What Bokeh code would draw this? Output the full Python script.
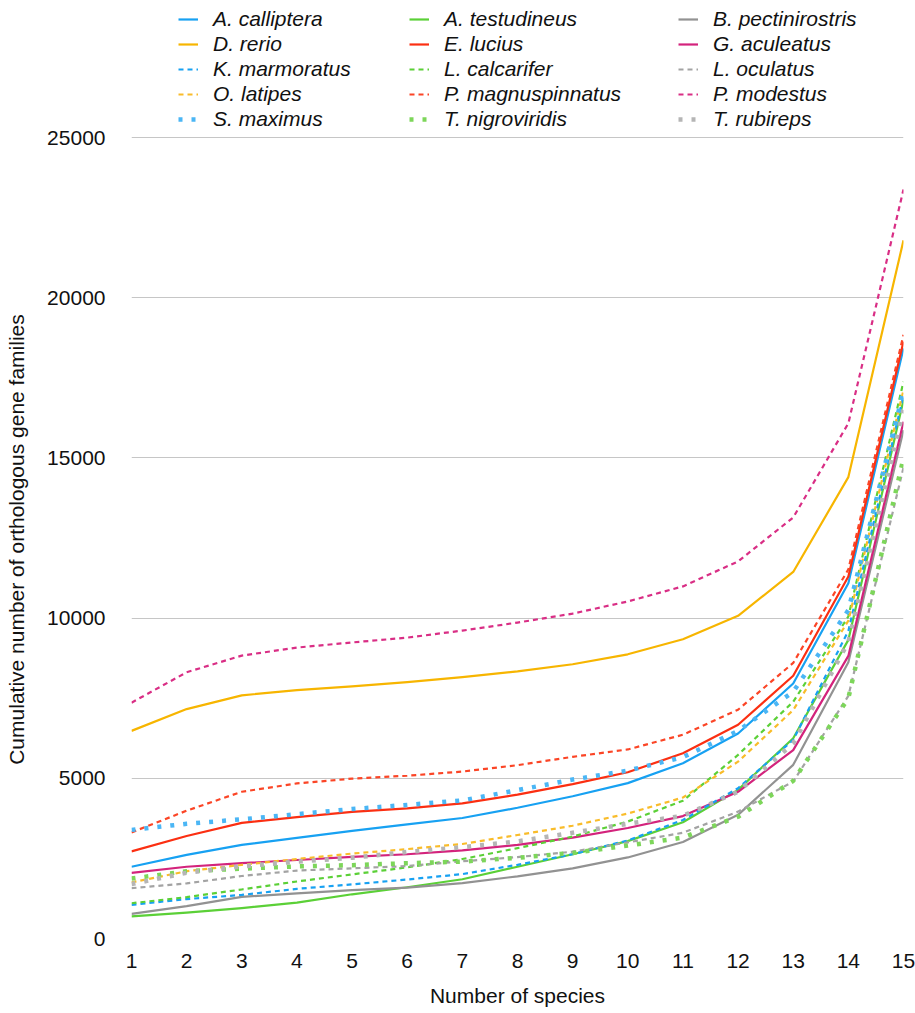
from bokeh.plotting import figure
from bokeh.models import Range1d, Legend, LegendItem, FixedTicker
from bokeh.embed import file_html
from bokeh.resources import INLINE

# Number of species included (x axis)
species_count = list(range(1, 16))

# Cumulative number of orthologous gene families per added species
a_calliptera = [2240, 2610, 2920, 3140, 3360, 3560, 3760, 4080, 4440, 4850, 5470, 6400, 7960, 11090, 18420]
a_testudineus = [690, 810, 950, 1120, 1380, 1600, 1850, 2240, 2630, 3040, 3630, 4640, 6250, 9320, 16810]
b_pectinirostris = [770, 1010, 1300, 1410, 1510, 1590, 1730, 1940, 2190, 2530, 3010, 3860, 5420, 8620, 15870]
d_rerio = [6480, 7160, 7590, 7750, 7870, 8000, 8160, 8340, 8560, 8870, 9340, 10070, 11440, 14400, 21790]
e_lucius = [2720, 3200, 3610, 3790, 3950, 4060, 4220, 4490, 4820, 5190, 5780, 6670, 8200, 11300, 18630]
g_aculeatus = [2050, 2240, 2350, 2450, 2550, 2630, 2750, 2920, 3150, 3450, 3820, 4580, 5880, 8820, 16130]
k_marmoratus = [1050, 1230, 1360, 1550, 1690, 1840, 2010, 2300, 2630, 3060, 3700, 4690, 6200, 9600, 16950]
l_calcarifer = [1100, 1290, 1530, 1780, 2000, 2220, 2480, 2820, 3180, 3650, 4300, 5730, 7390, 10050, 17380]
l_oculatus = [1570, 1720, 1950, 2120, 2190, 2260, 2410, 2540, 2710, 3000, 3300, 3960, 4900, 7570, 14700]
o_latipes = [1750, 2100, 2300, 2480, 2650, 2790, 2950, 3230, 3520, 3900, 4400, 5520, 7130, 9920, 17120]
p_magnuspinnatus = [3310, 3990, 4580, 4840, 4990, 5080, 5210, 5410, 5670, 5900, 6360, 7140, 8600, 11520, 18840]
p_modestus = [7360, 8310, 8830, 9080, 9240, 9390, 9610, 9860, 10140, 10520, 10990, 11770, 13140, 16080, 23380]
s_maximus = [3390, 3580, 3720, 3880, 4040, 4170, 4310, 4630, 4960, 5240, 5660, 6480, 7700, 10250, 17070]
t_nigroviridis = [1870, 2100, 2180, 2250, 2290, 2350, 2400, 2520, 2670, 2900, 3150, 3800, 4920, 7500, 15000]
t_rubireps = [1700, 2050, 2250, 2400, 2520, 2700, 2850, 3030, 3300, 3580, 3830, 4580, 6090, 9250, 16500]

y_ticks = [0, 5000, 10000, 15000, 20000, 25000]

# Line styles: (colour, dash, width)
BLUE, YELLOW, RED, GREEN, GRAY, PINK = "#17A1F2", "#F7B500", "#FB2F12", "#5BD037", "#929292", "#D3237C"
SOLID = lambda c: (c, "solid", 2.2)
DASHED = lambda c: (c, "5 4", 2.2)
DOTTED = lambda c: (c, "4 9", 4.5)

# Legend order (row-major, three columns)
series = [
    ("A. calliptera", a_calliptera, SOLID(BLUE)),
    ("A. testudineus", a_testudineus, SOLID(GREEN)),
    ("B. pectinirostris", b_pectinirostris, SOLID(GRAY)),
    ("D. rerio", d_rerio, SOLID(YELLOW)),
    ("E. lucius", e_lucius, SOLID(RED)),
    ("G. aculeatus", g_aculeatus, SOLID(PINK)),
    ("K. marmoratus", k_marmoratus, DASHED(BLUE)),
    ("L. calcarifer", l_calcarifer, DASHED(GREEN)),
    ("L. oculatus", l_oculatus, DASHED("#A3A3A3")),
    ("O. latipes", o_latipes, DASHED("#F9BC2A")),
    ("P. magnuspinnatus", p_magnuspinnatus, DASHED("#FB4526")),
    ("P. modestus", p_modestus, DASHED("#D92E85")),
    ("S. maximus", s_maximus, DOTTED("#4BB6F5")),
    ("T. nigroviridis", t_nigroviridis, DOTTED("#7DD65A")),
    ("T. rubireps", t_rubireps, DOTTED("#B5B5B5")),
]

FONT = "Liberation Sans"
INK = "#111111"

# The plotting frame runs to the top edge so the key can sit above the
# 25000 gridline; the value scale keeps 0..25000 over the lower 801 px.
FRAME_H = 1013 - 75
PLOT_H = 801
y_top = y_ticks[-1] * FRAME_H / PLOT_H

p = figure(
    width=915, height=1013,
    x_range=Range1d(1, 15), y_range=Range1d(0, y_top),
    output_backend="svg", toolbar_location=None,
    min_border_left=131, min_border_right=12,
    min_border_top=0, min_border_bottom=75,
)
p.outline_line_color = None

p.xgrid.visible = False
p.ygrid.grid_line_color = "#C6C6C6"
p.ygrid.grid_line_width = 1.2

p.xaxis.ticker = FixedTicker(ticks=species_count)
p.yaxis.ticker = FixedTicker(ticks=y_ticks)

for ax in (p.xaxis, p.yaxis):
    ax.axis_line_color = None
    ax.major_tick_line_color = None
    ax.minor_tick_line_color = None
    ax.major_label_text_font = FONT
    ax.major_label_text_font_size = "21px"
    ax.major_label_text_color = INK
    ax.axis_label_text_font = FONT
    ax.axis_label_text_font_style = "normal"
    ax.axis_label_text_font_size = "21px"
    ax.axis_label_text_color = INK

p.xaxis.axis_label = "Number of species"
p.xaxis.major_label_standoff = 9
p.xaxis.axis_label_standoff = 13

# Title centred on the value area rather than the whole frame: trailing
# no-break spaces pad the upper end of the rotated label.
p.yaxis.axis_label = "Cumulative number of orthologous gene families" + "\u00a0" * 24
p.yaxis.major_label_standoff = 20
p.yaxis.axis_label_standoff = 16

items = []
for name, values, (color, dash, width) in series:
    r = p.line(species_count, values, line_color=color, line_width=width,
               line_dash=dash, line_cap="butt", line_join="round")
    items.append(LegendItem(label=name, renderers=[r]))

# Three single-column keys across the top (x offsets from the frame's left)
col_x = [47, 278, 547]
key_bottom = FRAME_H - 131
for c in range(3):
    leg = Legend(
        items=items[c::3],
        location=(col_x[c], key_bottom),
        orientation="vertical",
        glyph_width=20, glyph_height=20, label_height=20,
        spacing=1, padding=0, margin=0, label_standoff=15,
        border_line_color=None, background_fill_alpha=0,
        label_text_font=FONT, label_text_font_style="italic",
        label_text_font_size="21px", label_text_color=INK,
    )
    p.add_layout(leg)

open("out.html", "w").write(file_html(p, INLINE))
